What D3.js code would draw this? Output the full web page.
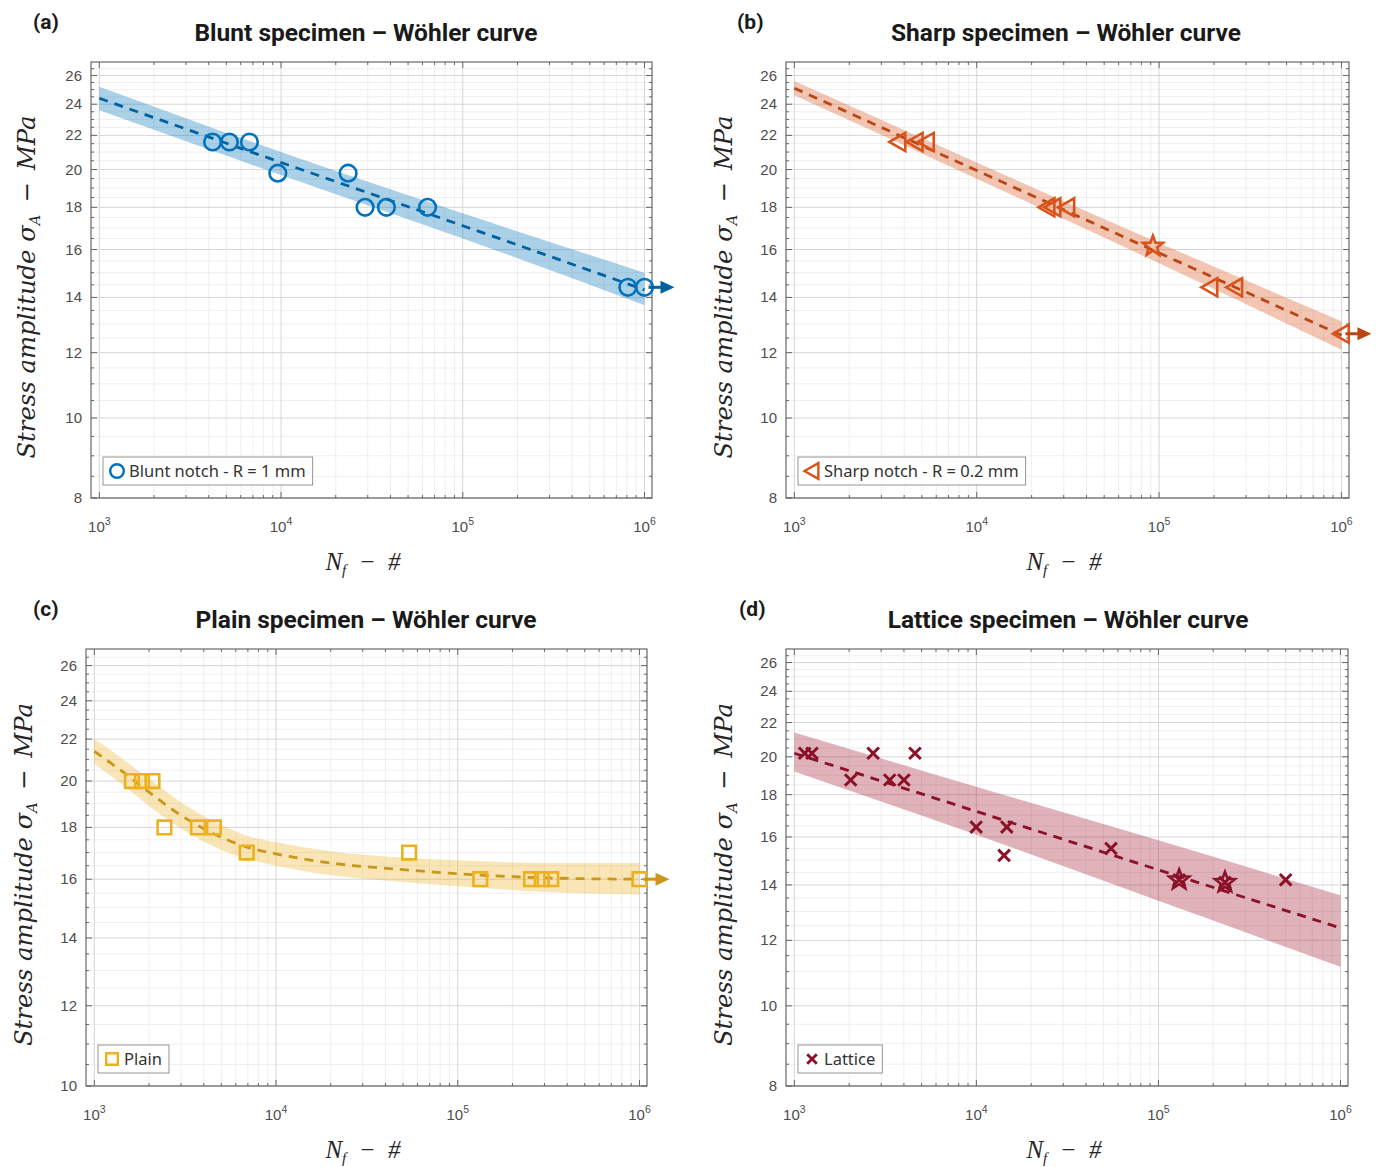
<!DOCTYPE html>
<html><head><meta charset="utf-8">
<script src="https://cdn.jsdelivr.net/npm/d3@7"></script>
<style>body{margin:0;background:#fff}svg{display:block}</style>
</head><body>
<svg id="chart" width="1380" height="1167"></svg>
<script>
// ================= DATA =================
const xLimits = [900, 1.1e6];
const xTickValues = [1e3, 1e4, 1e5, 1e6];
const xTickExponents = ["3", "4", "5", "6"];

// (a) Blunt
const bluntN = [4.2e3, 5.2e3, 6.7e3, 9.6e3, 2.34e4, 2.9e4, 3.8e4, 6.4e4, 8.1e5, 1.0e6];
const bluntS = [21.6, 21.6, 21.6, 19.8, 19.8, 18.0, 18.0, 18.0, 14.4, 14.4];
const bluntRunoutN = [1.0e6];
const bluntRunoutS = [14.4];
const bluntFitN = [1e3, 1e4, 1e5, 1e6];
const bluntFitS = [24.4, 20.4, 17.1, 14.3];
const bluntUpper = [25.2, 21.0, 17.7, 15.0];
const bluntLower = [23.6, 19.7, 16.5, 13.7];
const bluntYLimits = [8, 27];
const bluntYTicks = [8, 10, 12, 14, 16, 18, 20, 22, 24, 26];

// (b) Sharp
const sharpN = [3.7e3, 4.6e3, 5.3e3, 2.43e4, 2.62e4, 3.12e4, 1.9e5, 2.6e5, 1.0e6];
const sharpS = [21.6, 21.6, 21.6, 18.0, 18.0, 18.0, 14.4, 14.4, 12.65];
const sharpStarN = [9.25e4];
const sharpStarS = [16.15];
const sharpRunoutN = [1.0e6];
const sharpRunoutS = [12.65];
const sharpFitN = [1e3, 1e4, 1e5, 1e6];
const sharpFitS = [25.1, 19.95, 15.85, 12.6];
const sharpUpper = [25.6, 20.4, 16.3, 13.1];
const sharpLower = [24.6, 19.5, 15.4, 12.1];
const sharpYLimits = [8, 27];
const sharpYTicks = [8, 10, 12, 14, 16, 18, 20, 22, 24, 26];

// (c) Plain
const plainN = [1.61e3, 1.83e3, 2.09e3, 2.43e3, 3.72e3, 4.55e3, 6.9e3, 5.4e4, 1.33e5, 2.53e5, 2.9e5, 3.27e5, 1.0e6];
const plainS = [20.0, 20.0, 20.0, 18.0, 18.0, 18.0, 17.0, 17.0, 16.0, 16.0, 16.0, 16.0, 16.0];
const plainRunoutN = [1.0e6];
const plainRunoutS = [16.0];
const plainFitN = [1e3, 1.5e3, 2e3, 3e3, 5e3, 7e3, 1e4, 2e4, 5e4, 1e5, 3e5, 1e6];
const plainFitS = [21.4, 20.3, 19.5, 18.5, 17.6, 17.2, 16.95, 16.6, 16.35, 16.2, 16.05, 16.0];
const plainUpper = [22.0, 20.9, 20.1, 19.05, 18.1, 17.65, 17.4, 17.05, 16.8, 16.7, 16.6, 16.6];
const plainLower = [20.8, 19.7, 18.9, 17.95, 17.1, 16.75, 16.5, 16.15, 15.9, 15.75, 15.55, 15.45];
const plainYLimits = [10, 27];
const plainYTicks = [10, 12, 14, 16, 18, 20, 22, 24, 26];

// (d) Lattice
const latticeN = [1.14e3, 1.25e3, 2.04e3, 2.71e3, 3.34e3, 4.0e3, 4.6e3, 9.97e3, 1.42e4, 1.47e4, 5.49e4, 1.30e5, 2.32e5, 5.0e5];
const latticeS = [20.2, 20.2, 18.75, 20.2, 18.75, 18.75, 20.2, 16.45, 15.2, 16.45, 15.5, 14.2, 14.1, 14.2];
const latticeStarN = [1.30e5, 2.32e5];
const latticeStarS = [14.2, 14.1];
const latticeFitN = [1e3, 1e4, 1e5, 1e6];
const latticeFitS = [20.2, 17.18, 14.6, 12.42];
const latticeUpper = [21.4, 18.4, 15.85, 13.6];
const latticeLower = [19.2, 16.1, 13.4, 11.15];
const latticeYLimits = [8, 27];
const latticeYTicks = [8, 10, 12, 14, 16, 18, 20, 22, 24, 26];

const panelLetters = ["(a)", "(b)", "(c)", "(d)"];
const panelTitles = ["Blunt specimen \u2013 W\u00f6hler curve", "Sharp specimen \u2013 W\u00f6hler curve",
                     "Plain specimen \u2013 W\u00f6hler curve", "Lattice specimen \u2013 W\u00f6hler curve"];
const legendLabels = ["Blunt notch - R = 1 mm", "Sharp notch - R = 0.2 mm", "Plain", "Lattice"];
const seriesColors = ["#0072BD", "#D95319", "#EDB120", "#A2142F"];

// ================= DRAW =================
const svg = d3.select("#chart");
const zip = (a, b) => a.map((v, i) => [v, b[i]]);

const panels = [
  {id: "a", box: {left: 91, right: 652, top: 62, bottom: 498}, pts: zip(bluntN, bluntS), marker: "circle",
   stars: [], runout: zip(bluntRunoutN, bluntRunoutS), fit: bluntFitN.map((n, i) => ({n, s: bluntFitS[i], u: bluntUpper[i], l: bluntLower[i]})),
   yLimits: bluntYLimits, yTicks: bluntYTicks, letterX: 33, titleX: 366, ylabX: 35, xlabX: 363},
  {id: "b", box: {left: 786, right: 1349, top: 62, bottom: 498}, pts: zip(sharpN, sharpS), marker: "triangle",
   stars: zip(sharpStarN, sharpStarS), runout: zip(sharpRunoutN, sharpRunoutS), fit: sharpFitN.map((n, i) => ({n, s: sharpFitS[i], u: sharpUpper[i], l: sharpLower[i]})),
   yLimits: sharpYLimits, yTicks: sharpYTicks, letterX: 737, titleX: 1066, ylabX: 732, xlabX: 1064},
  {id: "c", box: {left: 86, right: 647, top: 649, bottom: 1086}, pts: zip(plainN, plainS), marker: "square",
   stars: [], runout: zip(plainRunoutN, plainRunoutS), fit: plainFitN.map((n, i) => ({n, s: plainFitS[i], u: plainUpper[i], l: plainLower[i]})),
   yLimits: plainYLimits, yTicks: plainYTicks, letterX: 33, titleX: 366, ylabX: 32, xlabX: 363},
  {id: "d", box: {left: 786, right: 1348, top: 649, bottom: 1086}, pts: zip(latticeN, latticeS), marker: "cross",
   stars: zip(latticeStarN, latticeStarS), runout: [], fit: latticeFitN.map((n, i) => ({n, s: latticeFitS[i], u: latticeUpper[i], l: latticeLower[i]})),
   yLimits: latticeYLimits, yTicks: latticeYTicks, letterX: 739, titleX: 1068, ylabX: 732, xlabX: 1064}
];

function markerPath(type, sz) {
  if (type === "circle") return d3.symbol().type(d3.symbolCircle).size(Math.PI * sz * sz)();
  if (type === "square") return `M${-sz},${-sz}H${sz}V${sz}H${-sz}Z`;
  if (type === "triangle") return `M${-sz},0L${sz * 0.85},${-sz * 1.05}L${sz * 0.85},${sz * 1.05}Z`;
  if (type === "cross") return `M${-sz},${-sz}L${sz},${sz}M${-sz},${sz}L${sz},${-sz}`;
  return "";
}
function starPath(r) {
  let p = "";
  for (let i = 0; i < 10; i++) {
    const rr = i % 2 === 0 ? r : r * 0.42;
    const a = -Math.PI / 2 + i * Math.PI / 5;
    p += (i === 0 ? "M" : "L") + (rr * Math.cos(a)).toFixed(2) + "," + (rr * Math.sin(a)).toFixed(2);
  }
  return p + "Z";
}

panels.forEach((p, pi) => {
  const {left, right, top, bottom} = p.box;
  const color = seriesColors[pi];
  const dark = d3.color(color).darker(0.45).formatHex();
  const x = d3.scaleLog().domain(xLimits).range([left, right]);
  const y = d3.scaleLog().domain(p.yLimits).range([bottom, top]);
  const g = svg.append("g");

  svg.append("clipPath").attr("id", "clip-" + p.id).append("rect")
    .attr("x", left).attr("y", top).attr("width", right - left).attr("height", bottom - top);

  // grid
  const xMinor = [];
  for (let e = 2; e <= 6; e++) for (let m = 1; m <= 9; m++) {
    const v = m * Math.pow(10, e);
    if (v > xLimits[0] && v < xLimits[1] && m !== 1) xMinor.push(v);
  }
  const yMinor = [];
  for (let v = p.yLimits[0]; v < p.yLimits[1]; v += 0.5) if (!p.yTicks.includes(v)) yMinor.push(v);

  const grid = g.append("g");
  grid.selectAll(".xm").data(xMinor).join("line").attr("x1", d => x(d)).attr("x2", d => x(d))
    .attr("y1", top).attr("y2", bottom).attr("stroke", "#ebebeb").attr("stroke-width", 0.8);
  grid.selectAll(".ym").data(yMinor).join("line").attr("y1", d => y(d)).attr("y2", d => y(d))
    .attr("x1", left).attr("x2", right).attr("stroke", "#ebebeb").attr("stroke-width", 0.8);
  grid.selectAll(".xM").data(xTickValues).join("line").attr("x1", d => x(d)).attr("x2", d => x(d))
    .attr("y1", top).attr("y2", bottom).attr("stroke", "#d6d6d6").attr("stroke-width", 1);
  grid.selectAll(".yM").data(p.yTicks).join("line").attr("y1", d => y(d)).attr("y2", d => y(d))
    .attr("x1", left).attr("x2", right).attr("stroke", "#d6d6d6").attr("stroke-width", 1);

  // band + fit
  const clipped = g.append("g").attr("clip-path", `url(#clip-${p.id})`);
  const area = d3.area().x(d => x(d.n)).y0(d => y(d.l)).y1(d => y(d.u)).curve(d3.curveMonotoneX);
  clipped.append("path").datum(p.fit).attr("d", area).attr("fill", color).attr("fill-opacity", 0.33);
  const line = d3.line().x(d => x(d.n)).y(d => y(d.s)).curve(d3.curveMonotoneX);
  clipped.append("path").datum(p.fit).attr("d", line).attr("fill", "none").attr("stroke", dark)
    .attr("stroke-width", 2.8).attr("stroke-dasharray", "9,7");

  // axes box + ticks
  const ax = g.append("g").attr("stroke", "#5a5a5a").attr("fill", "none");
  ax.append("rect").attr("x", left).attr("y", top).attr("width", right - left).attr("height", bottom - top).attr("stroke-width", 1.1);
  const tick = (x1, y1, x2, y2) => ax.append("line").attr("x1", x1).attr("y1", y1).attr("x2", x2).attr("y2", y2).attr("stroke-width", 0.9);
  xTickValues.forEach(v => { tick(x(v), bottom, x(v), bottom - 6); tick(x(v), top, x(v), top + 6); });
  xMinor.forEach(v => { tick(x(v), bottom, x(v), bottom - 3); tick(x(v), top, x(v), top + 3); });
  p.yTicks.forEach(v => { tick(left, y(v), left + 6, y(v)); tick(right, y(v), right - 6, y(v)); });
  yMinor.forEach(v => { tick(left, y(v), left + 3, y(v)); tick(right, y(v), right - 3, y(v)); });

  // tick labels
  const yl = g.append("g").attr("font-family", "Liberation Sans, Arial, sans-serif").attr("font-size", 15).attr("fill", "#4d4d4d");
  yl.selectAll("text").data(p.yTicks).join("text").attr("x", left - 9).attr("y", d => y(d) + 5)
    .attr("text-anchor", "end").text(d => d);
  const xl = g.append("g").attr("font-family", "Liberation Sans, Arial, sans-serif").attr("font-size", 15).attr("fill", "#4d4d4d");
  xTickValues.forEach((v, i) => {
    const t = xl.append("text").attr("x", x(v)).attr("y", bottom + 34).attr("text-anchor", "middle");
    t.append("tspan").text("10");
    t.append("tspan").attr("dy", -7).attr("font-size", 10.5).text(xTickExponents[i]);
  });

  // markers
  const mk = g.append("g");
  const isCross = p.marker === "cross";
  const msz = p.marker === "circle" ? 8.3 : p.marker === "square" ? 6.8 : p.marker === "triangle" ? 8.6 : 5.8;
  mk.selectAll("path.m").data(p.pts).join("path")
    .attr("transform", d => `translate(${x(d[0])},${y(d[1])})`)
    .attr("d", markerPath(p.marker, msz))
    .attr("fill", "none").attr("stroke", isCross ? dark : color).attr("stroke-width", isCross ? 3 : 2.6);
  mk.selectAll("path.s").data(p.stars).join("path")
    .attr("transform", d => `translate(${x(d[0])},${y(d[1])})`)
    .attr("d", starPath(10.5)).attr("fill", "none").attr("stroke", isCross ? dark : color).attr("stroke-width", 2.6);

  // runout arrows
  p.runout.forEach(d => {
    const x0 = x(d[0]), y0 = y(d[1]);
    mk.append("line").attr("x1", x0 + 4).attr("x2", x0 + 20).attr("y1", y0).attr("y2", y0)
      .attr("stroke", dark).attr("stroke-width", 3);
    mk.append("path").attr("d", `M${x0 + 16},${y0 - 6.5}L${x0 + 30},${y0}L${x0 + 16},${y0 + 6.5}Z`).attr("fill", dark);
  });

  // legend
  const lg = g.append("g");
  const lx = left + 12, lyTop = bottom - 41, lh = 28;
  const rect = lg.append("rect").attr("x", lx).attr("y", lyTop).attr("height", lh).attr("fill", "#fff")
    .attr("stroke", "#8a8a8a").attr("stroke-width", 0.9);
  lg.append("path").attr("transform", `translate(${lx + 14},${lyTop + lh / 2})`)
    .attr("d", markerPath(p.marker, p.marker === "circle" ? 6.8 : p.marker === "square" ? 5.8 : p.marker === "triangle" ? 7.5 : 4.8))
    .attr("fill", "none").attr("stroke", isCross ? dark : color).attr("stroke-width", isCross ? 2.8 : 2.4);
  const lt = lg.append("text").attr("x", lx + 26).attr("y", lyTop + lh / 2 + 5.5)
    .attr("font-family", "Noto Sans, Arial, sans-serif").attr("font-size", 16.5).attr("fill", "#333").text(legendLabels[pi]);
  rect.attr("width", lt.node().getComputedTextLength() + 33);

  // titles
  g.append("text").attr("x", p.letterX).attr("y", top - 33).attr("font-family", "Roboto, Arial, sans-serif")
    .attr("font-weight", "bold").attr("font-size", 21).attr("fill", "#1a1a1a").text(panelLetters[pi]);
  g.append("text").attr("x", p.titleX).attr("y", top - 21).attr("text-anchor", "middle").attr("font-family", "Roboto, Arial, sans-serif")
    .attr("font-weight", "bold").attr("font-size", 24.5).attr("fill", "#1a1a1a").text(panelTitles[pi]);

  // y label
  const cy = (top + bottom) / 2 + 7;
  const ylab = g.append("text").attr("transform", `translate(${p.ylabX},${cy}) rotate(-90)`).attr("text-anchor", "middle")
    .attr("font-family", "DejaVu Serif, serif").attr("font-style", "italic").attr("font-size", 24.3).attr("fill", "#262626");
  ylab.append("tspan").text("Stress amplitude \u03c3");
  ylab.append("tspan").attr("dy", 5).attr("font-size", 14.5).text("A");
  ylab.append("tspan").attr("dy", -5).text("\u2002\u2212\u2002MPa");

  // x label
  const xlab = g.append("text").attr("x", p.xlabX).attr("y", bottom + 72).attr("text-anchor", "middle")
    .attr("font-family", "Liberation Serif, serif").attr("font-style", "italic").attr("font-size", 25).attr("fill", "#262626");
  xlab.append("tspan").text("N");
  xlab.append("tspan").attr("dy", 5).attr("font-size", 15).text("f");
  xlab.append("tspan").attr("dy", -5).text("\u2002\u2212\u2002#");
});
</script>
</body></html>
